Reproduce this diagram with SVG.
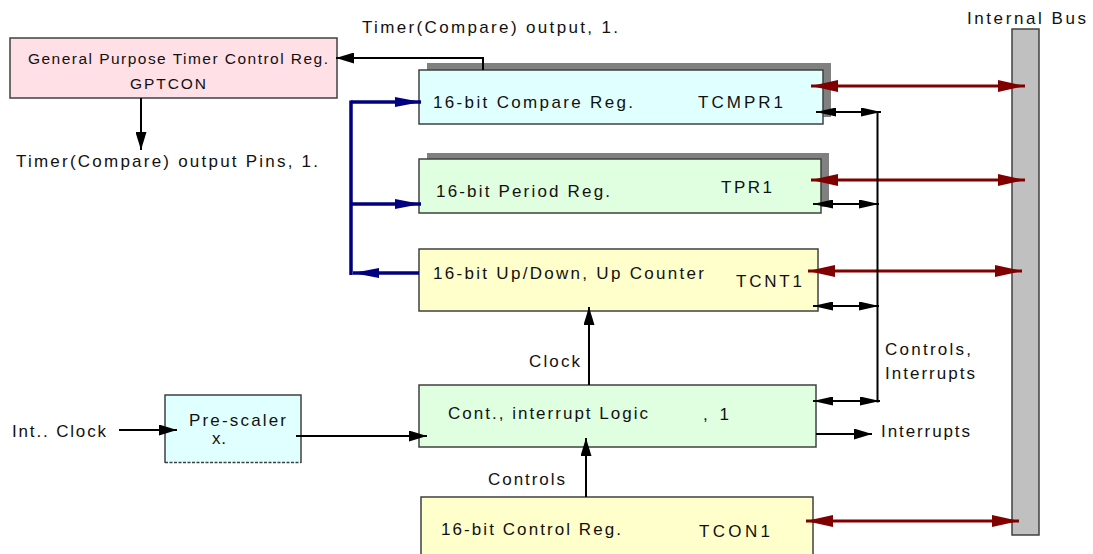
<svg xmlns="http://www.w3.org/2000/svg" width="1093" height="554" viewBox="0 0 1093 554">
<style>
text{font-family:"Liberation Sans",Arial,sans-serif;font-size:17px;fill:#111;}
.small{font-size:15.5px;}
.box{stroke:#404040;stroke-width:1.5;}
.shadow{fill:#808080;}
.blk{stroke:#000;stroke-width:2;fill:none;}
.blue{stroke:#000080;stroke-width:3.5;fill:none;}
.red{stroke:#800000;stroke-width:3;fill:none;}
</style>
<defs>
<marker id="ab" viewBox="0 0 18 11" refX="18" refY="5.5" markerWidth="18" markerHeight="11" markerUnits="userSpaceOnUse" orient="auto-start-reverse"><path d="M0,0 L18,5.5 L0,11 Z" fill="#000"/></marker>
<marker id="as" viewBox="0 0 20 9" refX="20" refY="4.5" markerWidth="20" markerHeight="9" markerUnits="userSpaceOnUse" orient="auto-start-reverse"><path d="M0,0 L20,4.5 L0,9 Z" fill="#000"/></marker>
<marker id="an" viewBox="0 0 26 10" refX="26" refY="5" markerWidth="26" markerHeight="10" markerUnits="userSpaceOnUse" orient="auto-start-reverse"><path d="M0,0 L26,5 L0,10 Z" fill="#000080"/></marker>
<marker id="ar" viewBox="0 0 27 12" refX="27" refY="6" markerWidth="27" markerHeight="12" markerUnits="userSpaceOnUse" orient="auto-start-reverse"><path d="M0,0 L27,6 L0,12 Z" fill="#800000"/></marker>
</defs>

<g id="bus">
<rect class="box" x="1012" y="29" width="27" height="506" fill="#c0c0c0"/>
<text x="967" y="24" textLength="119" lengthAdjust="spacing">Internal Bus</text>
</g>

<g id="gptcon">
<rect class="box" x="10" y="38" width="327" height="60" fill="#ffe0e6"/>
<text class="small" x="28" y="64" textLength="300" lengthAdjust="spacing">General Purpose Timer Control Reg.</text>
<text class="small" x="130" y="89" textLength="76" lengthAdjust="spacing">GPTCON</text>
</g>

<g id="tcmpr1">
<rect class="shadow" x="427" y="63" width="404" height="54"/>
<rect class="box" x="419" y="70" width="404" height="54" fill="#e0ffff"/>
<text x="433" y="108" textLength="200" lengthAdjust="spacing">16-bit Compare Reg.</text>
<text x="698" y="108" textLength="85" lengthAdjust="spacing">TCMPR1</text>
</g>

<g id="tpr1">
<rect class="shadow" x="427" y="153" width="402" height="54"/>
<rect class="box" x="419" y="159" width="402" height="54" fill="#e0ffe0"/>
<text x="436" y="197" textLength="174" lengthAdjust="spacing">16-bit Period Reg.</text>
<text x="721" y="193" textLength="51" lengthAdjust="spacing">TPR1</text>
</g>

<g id="tcnt1">
<rect class="box" x="419" y="249" width="399" height="62" fill="#ffffcc"/>
<text x="433" y="279" textLength="271" lengthAdjust="spacing">16-bit Up/Down, Up Counter</text>
<text x="736" y="287" textLength="66" lengthAdjust="spacing">TCNT1</text>
</g>

<g id="contlogic">
<rect class="box" x="419" y="385" width="397" height="62" fill="#e0ffe0"/>
<text x="448" y="419" textLength="200" lengthAdjust="spacing">Cont., interrupt Logic</text>
<text x="703" y="420" textLength="26" lengthAdjust="spacing">,  1</text>
</g>

<g id="tcon1">
<rect class="box" x="421" y="497" width="392" height="62" fill="#ffffcc"/>
<text x="441" y="535" textLength="180" lengthAdjust="spacing">16-bit Control Reg.</text>
<text x="699" y="537" textLength="71" lengthAdjust="spacing">TCON1</text>
</g>

<g id="prescaler">
<path class="box" d="M165,463 L165,395 L301,395 L301,463" fill="#e0ffff"/>
<line x1="165" y1="462.5" x2="301" y2="462.5" stroke="#404040" stroke-width="1.5" stroke-dasharray="3,1.5"/>
<text x="189" y="426" textLength="97" lengthAdjust="spacing">Pre-scaler</text>
<text x="212" y="444" textLength="14" lengthAdjust="spacing">x.</text>
</g>

<g id="labels">
<text x="362" y="33" textLength="256" lengthAdjust="spacing">Timer(Compare) output, 1.</text>
<text x="16" y="167" textLength="302" lengthAdjust="spacing">Timer(Compare) output Pins, 1.</text>
<text x="529" y="367" textLength="51" lengthAdjust="spacing">Clock</text>
<text x="12" y="437" textLength="94" lengthAdjust="spacing">Int.. Clock</text>
<text x="488" y="485" textLength="77" lengthAdjust="spacing">Controls</text>
<text x="885" y="355" textLength="86" lengthAdjust="spacing">Controls,</text>
<text x="885" y="379" textLength="90" lengthAdjust="spacing">Interrupts</text>
<text x="881" y="437" textLength="89" lengthAdjust="spacing">Interrupts</text>
</g>

<g id="connectors">
<polyline class="blk" points="483,70 483,58 336,58" marker-end="url(#ab)"/>
<line class="blk" x1="141" y1="98" x2="141" y2="150" marker-end="url(#ab)"/>

<line class="blue" x1="351" y1="100.5" x2="351" y2="275"/>
<line class="blue" x1="351" y1="102" x2="421" y2="102" marker-end="url(#an)"/>
<line class="blue" x1="351" y1="204" x2="421" y2="204" marker-end="url(#an)"/>
<line class="blue" x1="419" y1="273" x2="353" y2="273" marker-end="url(#an)"/>

<line class="red" x1="811" y1="86" x2="1025" y2="86" marker-start="url(#ar)" marker-end="url(#ar)"/>
<line class="red" x1="811" y1="180" x2="1025" y2="180" marker-start="url(#ar)" marker-end="url(#ar)"/>
<line class="red" x1="808" y1="271" x2="1022" y2="271" marker-start="url(#ar)" marker-end="url(#ar)"/>
<line class="red" x1="806" y1="521" x2="1019" y2="521" marker-start="url(#ar)" marker-end="url(#ar)"/>

<line class="blk" x1="877.5" y1="111" x2="877.5" y2="402.5" stroke-width="2.5"/>
<line class="blk" x1="816" y1="112" x2="881" y2="112" marker-start="url(#as)" marker-end="url(#as)"/>
<line class="blk" x1="813" y1="204" x2="879" y2="204" marker-start="url(#as)" marker-end="url(#as)"/>
<line class="blk" x1="813" y1="306" x2="879" y2="306" marker-start="url(#as)" marker-end="url(#as)"/>
<line class="blk" x1="813" y1="401" x2="880" y2="401" marker-start="url(#as)" marker-end="url(#as)"/>

<line class="blk" x1="589" y1="385" x2="589" y2="307" marker-end="url(#ab)"/>
<line class="blk" x1="586" y1="497" x2="586" y2="438" marker-end="url(#ab)"/>
<line class="blk" x1="119" y1="430" x2="177" y2="430" marker-end="url(#ab)"/>
<line class="blk" x1="296" y1="436" x2="427" y2="436" marker-end="url(#ab)"/>
<line class="blk" x1="816" y1="434" x2="872" y2="434" marker-end="url(#ab)"/>
</g>
</svg>
